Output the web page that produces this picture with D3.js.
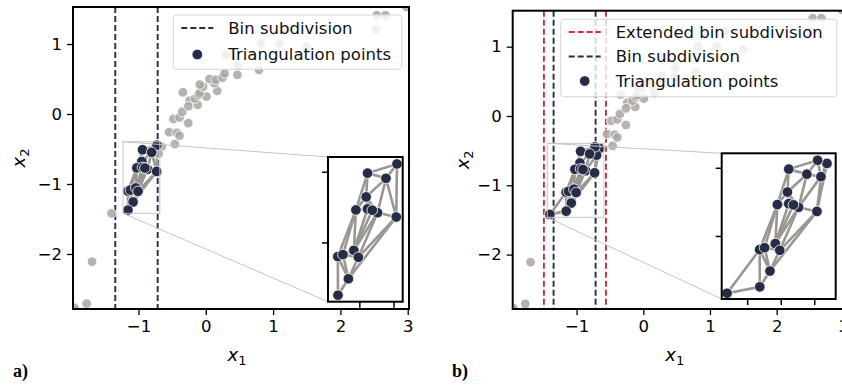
<!DOCTYPE html>
<html>
<head>
<meta charset="utf-8">
<script src="https://cdn.jsdelivr.net/npm/d3@7"></script>
<style>
  body { margin: 0; background: #fff; }
  svg { display: block; font-family: "DejaVu Sans", sans-serif; }
</style>
</head>
<body>
<svg id="fig" width="842" height="385"></svg>
<script>
// ---- data: sample cloud in (x1, x2) ----
const cloudX = [-1.77, -1.69, -1.95, -1.40, -0.655, -0.70, -0.46, -0.545, -0.43, -0.39,
                -0.26, -0.48, -0.39, -0.35, -0.24, -0.26, -0.12, -0.16, -0.11, 0.01,
                -0.09, -0.34, -0.04, 0.17, -0.09, 0.13, 0.055, 0.15, 0.25, 0.28,
                0.47, 0.48, 0.79, 0.30, 0.82, 1.10, 1.50, 1.22, 2.53, 2.54, 2.67, 2.98,
                -0.725, -0.94, -0.805, -0.95, -1.025, -0.94, -0.867, -0.905, -0.73,
                -1.157, -1.12, -1.04, -1.007, -1.08, -1.156];
const cloudY = [-2.71, -2.11, -2.77, -1.42, -0.468, -0.565, -0.43, -0.26, -0.27, -0.31,
                -0.13, -0.07, -0.05, 0.03, 0.19, 0.11, 0.13, 0.22, 0.27, 0.25,
                0.30, 0.31, 0.39, 0.33, 0.42, 0.44, 0.50, 0.49, 0.52, 0.58,
                0.56, 0.69, 0.63, 0.84, 1.01, 1.01, 0.96, 1.22, 1.21, 1.41, 1.41, 1.53,
                -0.445, -0.51, -0.547, -0.678, -0.77, -0.763, -0.79, -0.772, -0.82,
                -1.10, -1.086, -1.056, -1.105, -1.257, -1.373];

// bin boundaries along x1
const binEdges = [-1.345, -0.715];
const extendedEdges = [-1.49, -0.56];

// triangles with any side longer than this (data units) are left out
const maxTriangleEdge = 0.62;

// tick values
const xTicks = [-1, 0, 1, 2, 3];
const yTicks = [-2, -1, 0, 1];
const insetXTicksA = [-1.0, -0.75];
const insetXTicksB = [-1.25, -1.0, -0.75];
const insetYTicks = [-1.0, -0.5];

// legend entries
const legendA = ["Bin subdivision", "Triangulation points"];
const legendB = ["Extended bin subdivision", "Bin subdivision", "Triangulation points"];
const panelLabels = ["a)", "b)"];

// ---- style ----
const NAVY = "#252c45";
const RED = "#d52a3c";
const GREY_PT = "#a9a5a1";
const EDGE = "#9a9692";
const FS = 16.5;

const points = cloudX.map((x, i) => ({ x, y: cloudY[i] }));
const svg = d3.select("#fig");

// ---- panel layout ----
const panels = [
  {
    id: "a", box: { x0: 73, x1: 409, y0: 7, y1: 309 },
    xdom: [-1.973, 3.019], ydom: [-2.786, 1.529],
    select: binEdges,
    lines: [{ edges: binEdges, color: NAVY }],
    inset: { x0: 328, x1: 402.7, y0: 157, y1: 301.7,
             xdom: [-1.229, -0.683], ydom: [-1.419, -0.396], xticks: insetXTicksA },
    legend: { x0: 173.3, x1: 401.7, y0: 15, y1: 69.3, rows: [28, 54.5],
              items: [{ type: "line", color: NAVY, label: legendA[0] },
                      { type: "dot", label: legendA[1] }] },
    label: { text: panelLabels[0], x: 13, y: 377 },
    ylabelX: 19
  },
  {
    id: "b", box: { x0: 512.7, x1: 844.7, y0: 10.7, y1: 309 },
    xdom: [-1.958, 3.02], ydom: [-2.785, 1.519],
    select: extendedEdges,
    lines: [{ edges: extendedEdges, color: RED }, { edges: binEdges, color: NAVY }],
    inset: { x0: 721.7, x1: 835.7, y0: 153.3, y1: 299,
             xdom: [-1.44, -0.59], ydom: [-1.462, -0.394], xticks: insetXTicksB },
    legend: { x0: 560.7, x1: 836.7, y0: 19.3, y1: 96.7, rows: [32, 56.5, 81],
              items: [{ type: "line", color: RED, label: legendB[0] },
                      { type: "line", color: NAVY, label: legendB[1] },
                      { type: "dot", label: legendB[2] }] },
    label: { text: panelLabels[1], x: 452, y: 377 },
    ylabelX: 463
  }
];

const defs = svg.append("defs");

// Delaunay triangulation of the selected points, dropping slivers with long sides
function triEdges(sel) {
  const del = d3.Delaunay.from(sel, d => d.x, d => d.y);
  const t = del.triangles, seen = new Set(), out = [];
  const len = (a, b) => Math.hypot(sel[a].x - sel[b].x, sel[a].y - sel[b].y);
  for (let k = 0; k < t.length; k += 3) {
    const tri = [t[k], t[k + 1], t[k + 2]];
    if (len(tri[0], tri[1]) > maxTriangleEdge || len(tri[1], tri[2]) > maxTriangleEdge ||
        len(tri[2], tri[0]) > maxTriangleEdge) continue;
    for (let m = 0; m < 3; m++) {
      const a = tri[m], b = tri[(m + 1) % 3];
      const key = a < b ? a + "-" + b : b + "-" + a;
      if (!seen.has(key)) { seen.add(key); out.push([sel[a], sel[b]]); }
    }
  }
  return out;
}

function drawMarks(g, sel, edges, xs, ys, withGrey) {
  g.selectAll(null).data(edges).join("line")
    .attr("x1", d => xs(d[0].x)).attr("y1", d => ys(d[0].y))
    .attr("x2", d => xs(d[1].x)).attr("y2", d => ys(d[1].y))
    .attr("stroke", EDGE).attr("stroke-width", 2.6).attr("stroke-linecap", "round");
  if (withGrey) {
    g.selectAll(null).data(withGrey).join("circle")
      .attr("cx", d => xs(d.x)).attr("cy", d => ys(d.y)).attr("r", 4.8)
      .attr("fill", GREY_PT).attr("fill-opacity", 0.85)
      .attr("stroke", "#fff").attr("stroke-width", 0.8);
  }
  g.selectAll(null).data(sel).join("circle")
    .attr("cx", d => xs(d.x)).attr("cy", d => ys(d.y)).attr("r", 5.3)
    .attr("fill", NAVY).attr("stroke", "#fff").attr("stroke-width", 0.8);
}

panels.forEach(p => {
  const b = p.box;
  const xs = d3.scaleLinear().domain(p.xdom).range([b.x0, b.x1]);
  const ys = d3.scaleLinear().domain(p.ydom).range([b.y1, b.y0]);

  const inBin = d => d.x >= p.select[0] && d.x <= p.select[1];
  const sel = points.filter(inBin);
  const rest = points.filter(d => !inBin(d));
  const edges = triEdges(sel);

  defs.append("clipPath").attr("id", "clip-" + p.id)
    .append("rect").attr("x", b.x0).attr("y", b.y0)
    .attr("width", b.x1 - b.x0).attr("height", b.y1 - b.y0);

  const plot = svg.append("g").attr("clip-path", `url(#clip-${p.id})`);

  // bin boundaries
  p.lines.forEach(l => {
    plot.selectAll(null).data(l.edges).join("line")
      .attr("x1", d => xs(d)).attr("x2", d => xs(d))
      .attr("y1", b.y0).attr("y2", b.y1)
      .attr("stroke", l.color).attr("stroke-width", 1.9)
      .attr("stroke-dasharray", "6,3");
  });

  drawMarks(plot, sel, edges, xs, ys, rest);

  // spines & ticks
  const axes = svg.append("g");
  axes.append("g").attr("transform", `translate(0,${b.y1})`)
    .call(d3.axisBottom(xs).tickValues(xTicks).tickFormat(d3.format("d")).tickSize(6).tickPadding(5))
    .call(g => g.select(".domain").remove());
  axes.append("g").attr("transform", `translate(${b.x0},0)`)
    .call(d3.axisLeft(ys).tickValues(yTicks).tickFormat(d3.format("d")).tickSize(6).tickPadding(5))
    .call(g => g.select(".domain").remove());
  axes.selectAll(".tick line").attr("stroke", "#000").attr("stroke-width", 1.3);
  axes.selectAll(".tick text").attr("font-size", FS).attr("fill", "#000")
    .attr("font-family", "DejaVu Sans");
  axes.append("rect").attr("x", b.x0).attr("y", b.y0)
    .attr("width", b.x1 - b.x0).attr("height", b.y1 - b.y0)
    .attr("fill", "none").attr("stroke", "#000").attr("stroke-width", 2);

  // axis labels
  const xl = svg.append("text").attr("x", (b.x0 + b.x1) / 2 - 4).attr("y", 361)
    .attr("text-anchor", "middle").attr("font-size", 18);
  xl.append("tspan").attr("font-style", "italic").text("x");
  xl.append("tspan").attr("font-size", 13).attr("dy", 4).text("1");
  const yl = svg.append("text")
    .attr("transform", `translate(${p.ylabelX},${(b.y0 + b.y1) / 2}) rotate(-90)`)
    .attr("text-anchor", "middle").attr("font-size", 18).attr("dy", "0.35em");
  yl.append("tspan").attr("font-style", "italic").text("x");
  yl.append("tspan").attr("font-size", 13).attr("dy", 4).text("2");

  // zoom indicator and connectors
  const ins = p.inset;
  const rx0 = xs(ins.xdom[0]), rx1 = xs(ins.xdom[1]);
  const ry0 = ys(ins.ydom[1]), ry1 = ys(ins.ydom[0]);
  const ind = svg.append("g").attr("stroke", "#c4c4c4").attr("stroke-width", 1).attr("fill", "none");
  ind.append("rect").attr("x", rx0).attr("y", ry0).attr("width", rx1 - rx0).attr("height", ry1 - ry0);
  ind.append("line").attr("x1", rx0).attr("y1", ry0).attr("x2", ins.x0).attr("y2", ins.y0);
  ind.append("line").attr("x1", rx0).attr("y1", ry1).attr("x2", ins.x0).attr("y2", ins.y1);

  // inset axes
  const ixs = d3.scaleLinear().domain(ins.xdom).range([ins.x0, ins.x1]);
  const iys = d3.scaleLinear().domain(ins.ydom).range([ins.y1, ins.y0]);
  defs.append("clipPath").attr("id", "iclip-" + p.id)
    .append("rect").attr("x", ins.x0).attr("y", ins.y0)
    .attr("width", ins.x1 - ins.x0).attr("height", ins.y1 - ins.y0);
  svg.append("rect").attr("x", ins.x0).attr("y", ins.y0)
    .attr("width", ins.x1 - ins.x0).attr("height", ins.y1 - ins.y0).attr("fill", "#fff");
  const ig = svg.append("g").attr("clip-path", `url(#iclip-${p.id})`);
  drawMarks(ig, sel, edges, ixs, iys, null);
  const iax = svg.append("g");
  iax.append("g").attr("transform", `translate(0,${ins.y1})`)
    .call(d3.axisBottom(ixs).tickValues(ins.xticks).tickFormat("").tickSize(6))
    .call(g => g.select(".domain").remove());
  iax.append("g").attr("transform", `translate(${ins.x0},0)`)
    .call(d3.axisLeft(iys).tickValues(insetYTicks).tickFormat("").tickSize(6))
    .call(g => g.select(".domain").remove());
  iax.selectAll(".tick line").attr("stroke", "#000").attr("stroke-width", 1.5);
  iax.append("rect").attr("x", ins.x0).attr("y", ins.y0)
    .attr("width", ins.x1 - ins.x0).attr("height", ins.y1 - ins.y0)
    .attr("fill", "none").attr("stroke", "#000").attr("stroke-width", 2);

  // legend
  const L = p.legend;
  const lg = svg.append("g");
  lg.append("rect").attr("x", L.x0).attr("y", L.y0)
    .attr("width", L.x1 - L.x0).attr("height", L.y1 - L.y0).attr("rx", 3)
    .attr("fill", "#fff").attr("fill-opacity", 0.8)
    .attr("stroke", "#d6d6d6").attr("stroke-width", 1);
  const hx0 = L.x0 + 8, hx1 = L.x0 + 40;
  L.items.forEach((it, i) => {
    const y = L.rows[i];
    if (it.type === "line") {
      lg.append("line").attr("x1", hx0).attr("x2", hx1).attr("y1", y).attr("y2", y)
        .attr("stroke", it.color).attr("stroke-width", 1.9).attr("stroke-dasharray", "6,3");
    } else {
      lg.append("circle").attr("cx", (hx0 + hx1) / 2).attr("cy", y).attr("r", 5.3)
        .attr("fill", NAVY).attr("stroke", "#fff").attr("stroke-width", 0.8);
    }
    lg.append("text").attr("x", L.x0 + 55).attr("y", y).attr("dy", "0.35em")
      .attr("font-size", FS).attr("fill", "#111").text(it.label);
  });

  // panel tag
  svg.append("text").attr("x", p.label.x).attr("y", p.label.y)
    .style("font-family", "'Liberation Serif', 'Times New Roman', serif")
    .attr("font-weight", "bold").attr("font-size", 18).text(p.label.text);
});
</script>
</body>
</html>
